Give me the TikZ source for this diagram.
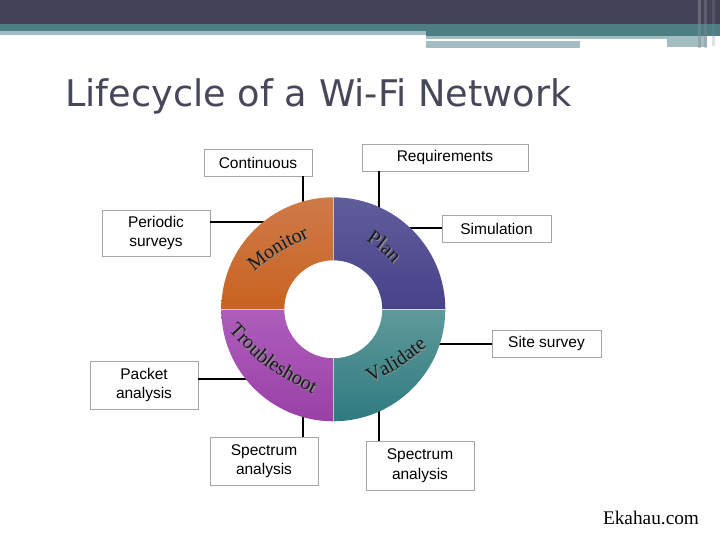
\documentclass[tikz,border=0pt]{standalone}
\usepackage{fontspec}
\setmainfont{Liberation Sans}
\newfontfamily\titlefamily{DejaVu Sans}
\newfontfamily\segfamily{Liberation Serif}
\usepackage{xcolor}
\usepackage{tikz}
\usetikzlibrary{calc,decorations.text}
\definecolor{barDark}{HTML}{424356}
\definecolor{barTeal}{HTML}{4B7F84}
\definecolor{barLight}{HTML}{A3BEC2}
\definecolor{barEdge}{HTML}{8A8B99}
\definecolor{titleGray}{HTML}{47475A}
\definecolor{planTop}{HTML}{605D9B}
\definecolor{planBot}{HTML}{48428A}
\definecolor{monTop}{HTML}{CF7A4A}
\definecolor{monBot}{HTML}{C8631F}
\definecolor{troTop}{HTML}{AE5EBB}
\definecolor{troBot}{HTML}{9A40A7}
\definecolor{valTop}{HTML}{5F9A9A}
\definecolor{valBot}{HTML}{2E7A80}
\newcommand{\segstyle}{\segfamily\fontsize{20}{24}\selectfont}
\tikzset{
	note/.style={draw=black!35, fill=white, line width=0.8pt, align=center,
		minimum width=108pt, minimum height=27pt, inner sep=2pt,
		font=\fontsize{15.5}{19.5}\selectfont},
	note2/.style={note, minimum height=48pt},
	link/.style={draw=black, line width=1.8pt},
	quad/.style 2 args={top color=#1, bottom color=#2, draw=none},
	seg/.style 2 args={decorate, decoration={text along path, text align=center,
		text={|\segstyle\color{#2}|#1}}},
}

\begin{document}
\begin{tikzpicture}[x=1pt, y=1pt]
	\useasboundingbox (0,0) rectangle (720,540);
	\fill[white] (0,0) rectangle (720,540);
	% header bars
	\fill[barDark] (0,516) rectangle (720,540);
	\fill[barTeal] (0,509) rectangle (720,516);
	\fill[barLight] (0,505) rectangle (426,509);
	\fill[barTeal] (426,504.3) rectangle (720,509);
	\fill[barLight] (426,501) rectangle (667,504.3);
	\fill[barLight] (426,492) rectangle (580,499);
	\fill[barLight] (667,493.3) rectangle (707,504.3);
	\fill[barEdge, opacity=0.5] (698,492) rectangle (701,540);
	\fill[barEdge, opacity=0.35] (704,492) rectangle (707,540);
	\fill[barEdge, opacity=0.25] (712,494) rectangle (715,540);

	\node[anchor=base west, inner sep=0pt, text=titleGray,
		font=\titlefamily\fontsize{36.7}{40}\selectfont] (title) at (65,433.3) {Lifecycle of a Wi-Fi Network};

	\coordinate (hub) at (333.3,230.7);
	% attach points inside the ring
	\coordinate (tcont) at ($(hub)+(-30,85)$);
	\coordinate (treq) at ($(hub)+(46,80)$);
	\coordinate (tperi) at ($(hub)+(-60,87.6)$);
	\coordinate (tsim) at ($(hub)+(60,81)$);
	\coordinate (tsite) at ($(hub)+(90,-34.8)$);
	\coordinate (tpack) at ($(hub)+(-75,-70)$);
	\coordinate (tspl) at ($(hub)+(-30,-85)$);
	\coordinate (tspr) at ($(hub)+(45.3,-85)$);

	\node[note] at (258,377.5) (cont) {Continuous};
	\node[note, minimum width=166pt] at (445,382.5) (req) {Requirements};
	\node[note2, minimum height=46pt] at (156,307) (peri) {Periodic\\surveys};
	\node[note, minimum width=109pt] at (496.5,311.5) (sim) {Simulation};
	\node[note, minimum width=109pt] at (546.5,196.5) (site) {Site survey};
	\node[note2] at (144,155) (pack) {Packet\\analysis};
	\node[note2] at (264,79) (specl) {Spectrum\\analysis};
	\node[note2, minimum height=49pt] at (420,74.5) (specr) {Spectrum\\analysis};

	\draw[link] (cont.south -| tcont) -- (tcont);
	\draw[link] (req.south -| treq) -- (treq);
	\draw[link] (peri.east |- tperi) -- (tperi);
	\draw[link] (sim.west |- tsim) -- (tsim);
	\draw[link] (site.west |- tsite) -- (tsite);
	\draw[link] (pack.east |- tpack) -- (tpack);
	\draw[link] (specl.north -| tspl) -- (tspl);
	\draw[link] (specr.north -| tspr) -- (tspr);

	% ring
	\foreach \a/\ct/\cb in {0/planTop/planBot, 90/monTop/monBot, 180/troTop/troBot, 270/valTop/valBot}
		\path[quad={\ct}{\cb}] ($(hub)+(\a:112)$) arc[start angle=\a, end angle=\a+90, radius=112]
			-- ($(hub)+({\a+90}:49)$) arc[start angle=\a+90, end angle=\a, radius=49] -- cycle;
	\foreach \a in {0,90,180,270}
		\draw[white, opacity=0.6, line width=0.8pt] ($(hub)+(\a:49)$) -- ($(hub)+(\a:112)$);

	% curved labels, shadow first
	\path[seg={Monitor}{black!45}, shift={(1.2,-1.2)}] (251.9,266.8) .. controls (279,288.3) .. (311.6,303.9);
	\path[seg={Monitor}{black!90}] (251.9,266.8) .. controls (279,288.3) .. (311.6,303.9);
	\path[seg={Plan}{black!45}, shift={(1.2,-1.2)}] (361.95,301.8) .. controls (381,289.6) .. (396.35,272.7);
	\path[seg={Plan}{black!90}] (361.95,301.8) .. controls (381,289.6) .. (396.35,272.7);
	\path[seg={Troubleshoot}{black!45}, shift={(1.2,-1.2)}] (224.3,214) .. controls (263.4,172.3) .. (317.95,143.5);
	\path[seg={Troubleshoot}{black!90}] (224.3,214) .. controls (263.4,172.3) .. (317.95,143.5);
	\path[seg={Validate}{black!45}, shift={(1.2,-1.2)}] (365,154.3) .. controls (401.5,173.2) .. (431.9,197.3);
	\path[seg={Validate}{black!90}] (365,154.3) .. controls (401.5,173.2) .. (431.9,197.3);

	\node[anchor=base, inner sep=0pt, font=\segfamily\fontsize{19.3}{22}\selectfont] (src) at (651,15) {Ekahau.com};
\end{tikzpicture}
\end{document}
